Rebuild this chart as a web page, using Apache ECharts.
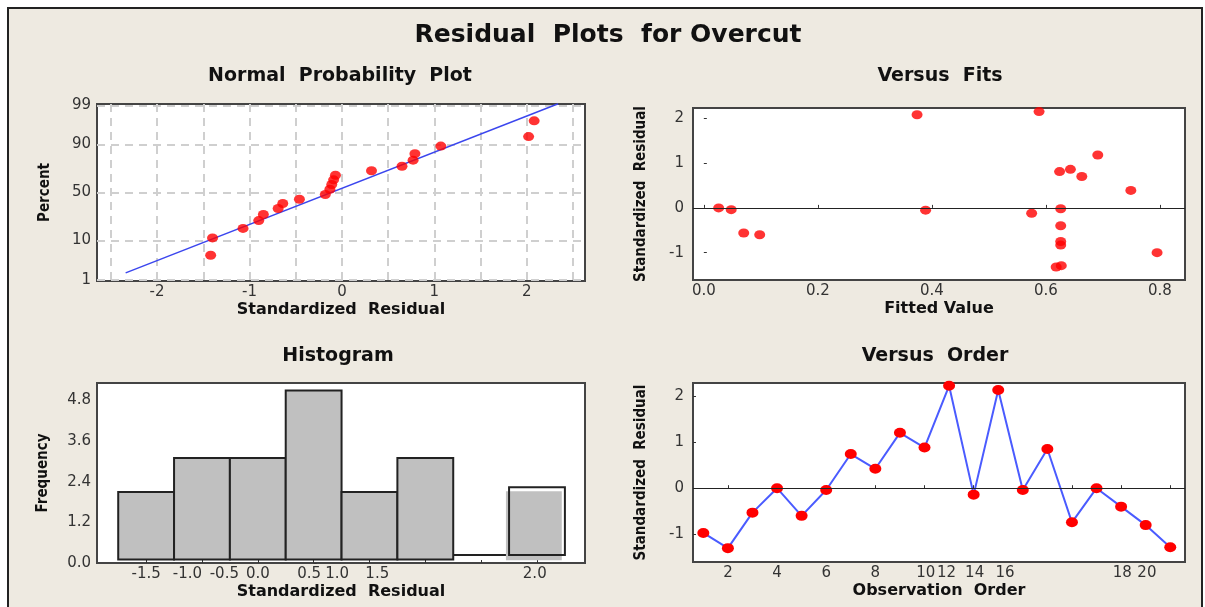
<!DOCTYPE html>
<html>
<head>
<meta charset="utf-8">
<script src="https://cdn.jsdelivr.net/npm/echarts@6/dist/echarts.min.js"></script>
<style>
html, body { margin: 0; padding: 0; background: #fff; }
#frame { position: absolute; left: 7px; top: 7px; width: 1192px; height: 620px; border: 2px solid #222; background: #eeeae1; }
#chart { position: absolute; left: 0; top: 0; width: 1205px; height: 607px; }
</style>
</head>
<body>
<div id="frame"></div>
<div id="chart"></div>
<script>
// normal probability plot (sorted residuals and their plotted percents)
var npResid = [-1.42, -1.40, -1.07, -0.90, -0.85, -0.69, -0.64, -0.46, -0.18, -0.13, -0.11, -0.09, -0.07, 0.32, 0.65, 0.77, 0.79, 1.07, 2.02, 2.08];
var npPercent = [4.7, 11.3, 16.9, 22.7, 27.9, 33.5, 38.5, 42.9, 47.9, 53.5, 58.4, 63.2, 67.7, 71.9, 75.8, 80.6, 85.0, 89.2, 93.2, 97.2];
var npLineX = [-2.34, 2.34];
var npLinePct = [1.6, 99.1];
var npTickPct = [1, 10, 50, 90, 99];
var npTickX = [-2.5, -2, -1.5, -1, -0.5, 0, 0.5, 1, 1.5, 2, 2.5];
var npLabelX = [-2, -1, 0, 1, 2];

// versus fits
var fitsX = [0.026, 0.048, 0.070, 0.098, 0.374, 0.389, 0.575, 0.588, 0.624, 0.643, 0.663, 0.691, 0.749, 0.795, 0.626, 0.626, 0.626, 0.626, 0.618, 0.627];
var fitsY = [0.00, -0.04, -0.56, -0.60, 2.08, -0.05, -0.12, 2.15, 0.81, 0.86, 0.70, 1.18, 0.39, -1.00, -0.02, -0.40, -0.75, -0.83, -1.32, -1.29];
var fitsTicks = [0, 0.2, 0.4, 0.6, 0.8];
var residTicks = [-1, 0, 1, 2];

// histogram
var histCenters = [-1.5, -1.0, -0.5, 0.0, 0.5, 1.0, 1.5, 2.0];
var histCounts = [2, 3, 3, 5, 2, 3, 0, 2];
var histLabelPos = [-1.5, -1.13, -0.80, -0.50, -0.04, 0.21, 0.57, 1.98];
var histLabelText = ['-1.5', '-1.0', '-0.5', '0.0', '0.5', '1.0', '1.5', '2.0'];

// versus order
var orderObs = [1, 2, 3, 4, 5, 6, 7, 8, 9, 10, 11, 12, 13, 14, 15, 16, 17, 18, 19, 20];
var orderY = [-0.97, -1.30, -0.53, 0.00, -0.60, -0.04, 0.74, 0.42, 1.20, 0.88, 2.22, -0.14, 2.13, -0.04, 0.85, -0.74, 0.00, -0.40, -0.80, -1.28];
var orderTicks = [2, 4, 6, 8, 10, 12, 14, 16, 18, 20];
var orderLabelPos = [2, 4, 6, 8, 10.05, 10.9, 12.04, 13.28, 18.05, 19.05];
var orderLabelText = ['2', '4', '6', '8', '10', '12', '14', '16', '18', '20'];

// inverse normal cdf (probability paper scale)
function probit(p) {
  var a = [-39.69683028665376, 220.9460984245205, -275.9285104469687, 138.3577518672690, -30.66479806614716, 2.506628277459239];
  var b = [-54.47609879822406, 161.5858368580409, -155.6989798598866, 66.80131188771972, -13.28068155288572];
  var c = [-0.007784894002430293, -0.3223964580411365, -2.400758277161838, -2.549732539343734, 4.374664141464968, 2.938163982698783];
  var d = [0.007784695709041462, 0.3224671290700398, 2.445134137142996, 3.754408661907416];
  var q, r;
  if (p < 0.02425) {
    q = Math.sqrt(-2 * Math.log(p));
    return (((((c[0] * q + c[1]) * q + c[2]) * q + c[3]) * q + c[4]) * q + c[5]) / ((((d[0] * q + d[1]) * q + d[2]) * q + d[3]) * q + 1);
  }
  if (p > 1 - 0.02425) {
    q = Math.sqrt(-2 * Math.log(1 - p));
    return -(((((c[0] * q + c[1]) * q + c[2]) * q + c[3]) * q + c[4]) * q + c[5]) / ((((d[0] * q + d[1]) * q + d[2]) * q + d[3]) * q + 1);
  }
  q = p - 0.5;
  r = q * q;
  return (((((a[0] * r + a[1]) * r + a[2]) * r + a[3]) * r + a[4]) * r + a[5]) * q / (((((b[0] * r + b[1]) * r + b[2]) * r + b[3]) * r + b[4]) * r + 1);
}

function nearestLabel(v, pos, text) {
  var best = 0;
  for (var i = 1; i < pos.length; i++) {
    if (Math.abs(pos[i] - v) < Math.abs(pos[best] - v)) best = i;
  }
  return text[best];
}

var npTickZ = npTickPct.map(function (p) { return probit(p / 100); });

var tickFont = { color: '#333', fontSize: 15, fontFamily: 'DejaVu Sans' };
var xNameFont = { color: '#111', fontSize: 16, fontWeight: 'bold', fontFamily: 'DejaVu Sans' };
var yNameFont = { color: '#111', fontSize: 15, fontWeight: 'bold', fontFamily: "'DejaVu Sans Condensed', 'Liberation Sans Narrow', 'DejaVu Sans'" };
var frame = { show: true, backgroundColor: '#fff', borderColor: '#444', borderWidth: 2 };
var dashed = { show: true, lineStyle: { color: '#cfcfcf', width: 2, type: [8, 6] } };
var zeroLine = {
  silent: true, symbol: 'none', label: { show: false },
  lineStyle: { color: '#222', width: 1.2, type: 'solid' },
  data: [{ yAxis: 0 }]
};

function titleText(x, y, text, size) {
  return {
    type: 'text', x: x, y: y, z: 10,
    style: { text: text, fill: '#111', font: 'bold ' + size + 'px "DejaVu Sans"', align: 'center', verticalAlign: 'middle' }
  };
}

var chart = echarts.init(document.getElementById('chart'));
var option = {
  backgroundColor: 'transparent',
  animation: false,
  graphic: [
    titleText(608, 35, 'Residual  Plots  for Overcut', 25),
    titleText(340, 76, 'Normal  Probability  Plot', 19),
    titleText(940, 76, 'Versus  Fits', 19),
    titleText(338, 356, 'Histogram', 19),
    titleText(935, 356, 'Versus  Order', 19)
  ],
  grid: [
    Object.assign({ left: 97, top: 104, width: 488, height: 177 }, frame),
    Object.assign({ left: 693, top: 108, width: 492, height: 172 }, frame),
    Object.assign({ left: 97, top: 383, width: 488, height: 180 }, frame),
    Object.assign({ left: 693, top: 383, width: 492, height: 179 }, frame)
  ],
  xAxis: [
    {
      gridIndex: 0, type: 'value', min: -2.65, max: 2.63,
      name: 'Standardized  Residual', nameLocation: 'middle', nameGap: 21, nameTextStyle: xNameFont,
      axisLine: { show: false },
      axisTick: { show: false, customValues: npTickX },
      axisLabel: Object.assign({ customValues: npLabelX, margin: 4 }, tickFont),
      splitLine: dashed
    },
    {
      gridIndex: 1, type: 'value', min: -0.019, max: 0.844,
      name: 'Fitted Value', nameLocation: 'middle', nameGap: 21, nameTextStyle: xNameFont,
      axisLine: { show: false },
      axisTick: { show: true, inside: true, length: 3, customValues: fitsTicks, lineStyle: { color: '#333' } },
      axisLabel: Object.assign({ customValues: fitsTicks, margin: 4, formatter: function (v) { return v.toFixed(1); } }, tickFont),
      splitLine: { show: false }
    },
    {
      gridIndex: 2, type: 'value', min: -1.94, max: 2.43,
      name: 'Standardized  Residual', nameLocation: 'middle', nameGap: 21, nameTextStyle: xNameFont,
      axisLine: { show: false },
      axisTick: { show: true, inside: true, length: 3, customValues: histCenters, lineStyle: { color: '#333' } },
      axisLabel: Object.assign({
        customValues: histLabelPos, margin: 4,
        formatter: function (v) { return nearestLabel(v, histLabelPos, histLabelText); }
      }, tickFont),
      splitLine: { show: false }
    },
    {
      gridIndex: 3, type: 'value', min: 0.58, max: 20.6,
      name: 'Observation  Order', nameLocation: 'middle', nameGap: 21, nameTextStyle: xNameFont,
      axisLine: { show: false },
      axisTick: { show: true, inside: true, length: 3, customValues: orderTicks, lineStyle: { color: '#333' } },
      axisLabel: Object.assign({
        customValues: orderLabelPos, margin: 4,
        formatter: function (v) { return nearestLabel(v, orderLabelPos, orderLabelText); }
      }, tickFont),
      splitLine: { show: false }
    }
  ],
  yAxis: [
    {
      gridIndex: 0, type: 'value', min: -2.36, max: 2.36,
      name: 'Percent', nameLocation: 'middle', nameRotate: 90, nameGap: 44, nameTextStyle: yNameFont,
      axisLine: { show: false },
      axisTick: { show: false, customValues: npTickZ },
      axisLabel: Object.assign({
        customValues: npTickZ, margin: 6,
        formatter: function (v) { return nearestLabel(v, npTickZ, npTickPct.map(String)); }
      }, tickFont),
      splitLine: dashed
    },
    {
      gridIndex: 1, type: 'value', min: -1.61, max: 2.23,
      name: 'Standardized  Residual', nameLocation: 'middle', nameRotate: 90, nameGap: 44, nameTextStyle: yNameFont,
      axisLine: { show: false },
      axisTick: { show: true, inside: true, length: 3, customValues: residTicks, lineStyle: { color: '#333' } },
      axisLabel: Object.assign({ customValues: residTicks, margin: 9 }, tickFont),
      splitLine: { show: false }
    },
    {
      gridIndex: 2, type: 'value', min: 0, max: 5.32, interval: 1.2,
      name: 'Frequency', nameLocation: 'middle', nameRotate: 90, nameGap: 46, nameTextStyle: yNameFont,
      axisLine: { show: false },
      axisTick: { show: true, inside: true, length: 3, lineStyle: { color: '#333' } },
      axisLabel: Object.assign({ margin: 6, showMaxLabel: false, formatter: function (v) { return v.toFixed(1); } }, tickFont),
      splitLine: { show: false }
    },
    {
      gridIndex: 3, type: 'value', min: -1.6, max: 2.28,
      name: 'Standardized  Residual', nameLocation: 'middle', nameRotate: 90, nameGap: 44, nameTextStyle: yNameFont,
      axisLine: { show: false },
      axisTick: { show: true, inside: true, length: 3, customValues: residTicks, lineStyle: { color: '#333' } },
      axisLabel: Object.assign({ customValues: residTicks, margin: 9 }, tickFont),
      splitLine: { show: false }
    }
  ],
  series: [
    {
      type: 'line', xAxisIndex: 0, yAxisIndex: 0, symbol: 'none', silent: true,
      lineStyle: { color: '#3b46ee', width: 1.5 },
      data: npLineX.map(function (x, i) { return [x, probit(npLinePct[i] / 100)]; }),
      z: 3
    },
    {
      type: 'scatter', xAxisIndex: 0, yAxisIndex: 0, symbol: 'circle', symbolSize: [11, 9],
      itemStyle: { color: '#ff0000' },
      data: npResid.map(function (x, i) { return [x, probit(npPercent[i] / 100)]; }),
      z: 4
    },
    {
      type: 'scatter', xAxisIndex: 1, yAxisIndex: 1, symbol: 'circle', symbolSize: [11, 9],
      itemStyle: { color: '#ff0000' },
      data: fitsX.map(function (x, i) { return [x, fitsY[i]]; }),
      markLine: zeroLine,
      z: 4
    },
    {
      type: 'custom', xAxisIndex: 2, yAxisIndex: 2,
      data: histCenters.map(function (c, i) { return [c, histCounts[i], i]; }),
      renderItem: function (params, api) {
        var c = api.value(0), n = api.value(1), i = api.value(2);
        var half = 0.25;
        var base = i >= 6 ? 0.24 : 0.1;
        var children = [];
        if (i === 7) {
          // offset grey fill behind the outlined last bin
          var g0 = api.coord([c - half - 0.028, 0.08]);
          var g1 = api.coord([c + half - 0.028, 0.08 + n + 0.04]);
          children.push({
            type: 'rect',
            shape: { x: g0[0], y: g1[1], width: g1[0] - g0[0], height: g0[1] - g1[1] },
            style: { fill: '#c0c0c0' }
          });
        }
        var p0 = api.coord([c - half, base]);
        var p1 = api.coord([c + half, base + n]);
        children.push({
          type: 'rect',
          shape: { x: p0[0], y: p1[1], width: p1[0] - p0[0], height: p0[1] - p1[1] },
          style: { fill: i >= 6 ? 'transparent' : '#c0c0c0', stroke: '#222', lineWidth: 2 }
        });
        return { type: 'group', children: children };
      }
    },
    {
      type: 'line', xAxisIndex: 3, yAxisIndex: 3, symbol: 'circle', symbolSize: [12, 10],
      lineStyle: { color: '#4a5bff', width: 2 },
      itemStyle: { color: '#ff0000' },
      data: orderObs.map(function (o, i) { return [o, orderY[i]]; }),
      markLine: zeroLine,
      z: 4
    }
  ]
};
chart.setOption(option);
</script>
</body>
</html>
